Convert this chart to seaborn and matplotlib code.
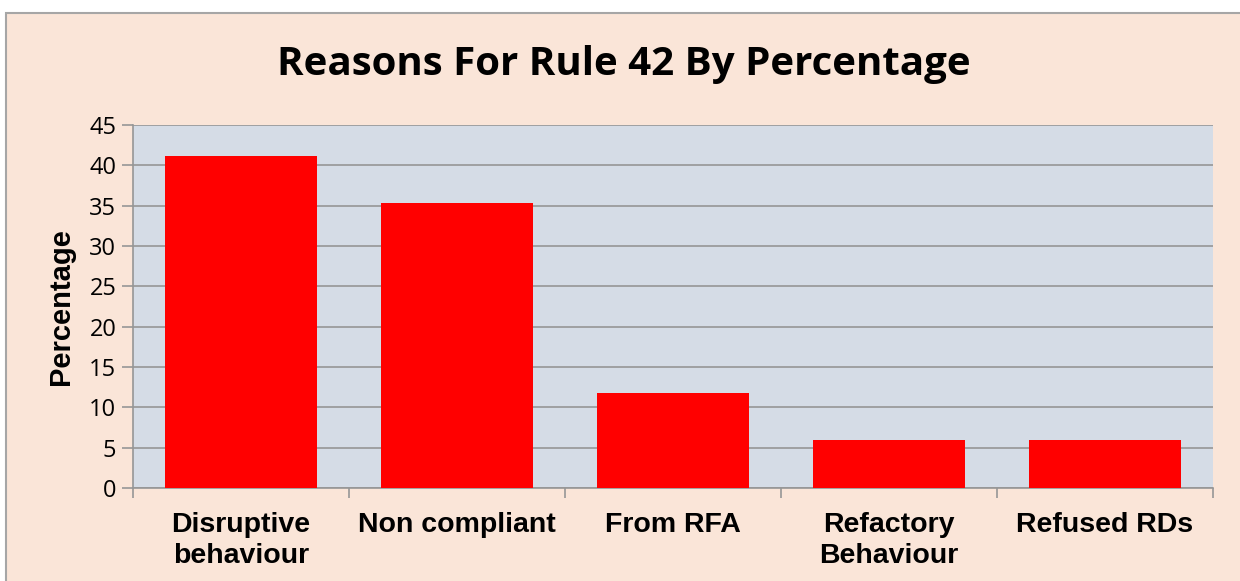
import matplotlib
matplotlib.use("Agg")
import matplotlib.pyplot as plt
import seaborn as sns
import pandas as pd
from matplotlib.patches import Rectangle

# Data
categories = ["Disruptive\nbehaviour", "Non compliant", "From RFA", "Refactory\nBehaviour", "Refused RDs"]
percentages = [41.2, 35.3, 11.8, 5.9, 5.9]
y_ticks = [0, 5, 10, 15, 20, 25, 30, 35, 40, 45]

df = pd.DataFrame({"reason": categories, "pct": percentages})

sns.set_theme(style="white")
plt.rcParams["font.family"] = ["Open Sans", "DejaVu Sans"]
plt.rcParams["text.color"] = "black"
plt.rcParams["xtick.color"] = "black"
plt.rcParams["ytick.color"] = "black"
plt.rcParams["axes.labelcolor"] = "black"

fig = plt.figure(figsize=(12.4, 5.81), dpi=100)
fig.patch.set_facecolor("white")
# chart area with peach fill and grey border
fig.patches.append(Rectangle((6 / 1240, -0.01), 1.02, 1 - 13 / 581 + 0.01,
                             transform=fig.transFigure, facecolor="#FAE5D8",
                             edgecolor="#A6A6A6", linewidth=1.5, zorder=-10))

ax = fig.add_axes([133 / 1240, 1 - 488 / 581, (1213 - 133) / 1240, (488 - 125) / 581])
ax.set_facecolor("#D5DCE6")

sns.barplot(data=df, x="reason", y="pct", color="#FF0000", saturation=1,
            width=0.70, ax=ax, zorder=3, edgecolor="none", linewidth=0)

ax.set_ylim(0, 45)
ax.set_xlim(-0.5, len(categories) - 0.5)
ax.set_yticks(y_ticks)
ax.set_yticklabels([str(t) for t in y_ticks], fontsize=17, family=["Open Sans", "DejaVu Sans"])
ax.yaxis.grid(True, color="#969696", linewidth=1.2, zorder=0)
ax.set_axisbelow(True)

# category boundary ticks on x axis
ax.set_xticks([i - 0.5 for i in range(len(categories) + 1)], minor=False)
ax.set_xticklabels([])
ax.set_xticks(range(len(categories)), minor=True)
ax.set_xticklabels(categories, minor=True, fontsize=20.5, fontweight="bold",
                   family=["Liberation Sans", "DejaVu Sans"], linespacing=1.25)
ax.tick_params(axis="x", which="major", length=7, color="#969696", width=1.2, direction="out", bottom=True)
ax.tick_params(axis="x", which="minor", length=0, pad=17)
ax.tick_params(axis="y", length=8, color="#969696", width=1.2, direction="out", left=True, pad=4)

for side in ["top", "right"]:
    ax.spines[side].set_visible(False)
for side in ["left", "bottom"]:
    ax.spines[side].set_color("#969696")
    ax.spines[side].set_linewidth(1.2)

ax.set_xlabel("")
ax.set_ylabel("Percentage", fontsize=21, fontweight="bold",
              family=["Liberation Sans", "DejaVu Sans"], labelpad=10)

fig.text(624 / 1240, 1 - 65 / 581, "Reasons For Rule 42 By Percentage",
         ha="center", va="center", fontsize=29, fontweight="bold",
         family=["Open Sans", "DejaVu Sans"])

fig.savefig("out.png", dpi=100, facecolor=fig.get_facecolor())
